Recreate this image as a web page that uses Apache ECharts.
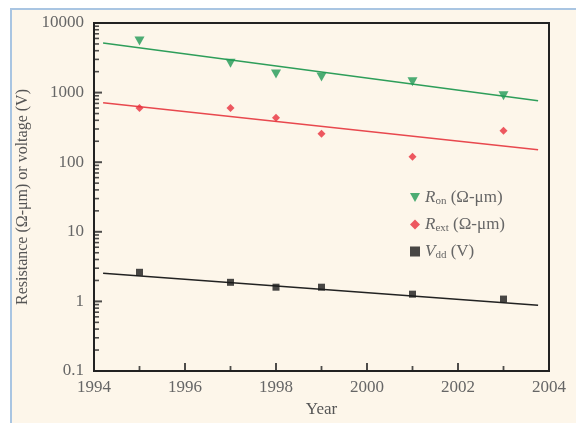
<!DOCTYPE html>
<html><head><meta charset="utf-8">
<script src="https://cdn.jsdelivr.net/npm/echarts@6/dist/echarts.min.js"></script>
<style>
html,body{margin:0;padding:0;background:#fff}
#bg{position:absolute;left:10px;top:8px;width:600px;height:500px;background:#fdf6ea;border:2px solid #a9c5e2;box-sizing:border-box}
#wrap{position:relative;width:576px;height:423px;overflow:hidden}
#c{position:absolute;left:0;top:0;width:576px;height:423px}
</style>
</head><body><div id="wrap"><div id="bg"></div><div id="c"></div></div>
<script>
const years = [1995, 1997, 1998, 1999, 2001, 2003];
const ron = [5500, 2650, 1850, 1680, 1430, 900];
const rext = [600, 600, 435, 257, 120, 284];
const vdd = [2.62, 1.88, 1.60, 1.60, 1.27, 1.08];
const fitYears = [1994.2, 2003.76];
const ronFit = [5170, 764];
const rextFit = [714, 151];
const vddFit = [2.54, 0.88];
const xTicks = [1994, 1996, 1998, 2000, 2002, 2004];
const yTicks = [0.1, 1, 10, 100, 1000, 10000];

const serif = '"Liberation Serif","DejaVu Serif",serif';
const pair = (xs, ys) => xs.map((x, i) => [x, ys[i]]);

// tick-mark positions (axis decoration), in axis units
const xMajorTicks = [1996, 1998, 2000, 2002].map(y => [y, 0.1]);
const xMinorTicks = [1995, 1997, 1999, 2001, 2003].map(y => [y, 0.1]);
const yMajorTicks = [1, 10, 100, 1000].map(v => [1994, v]);
const yMinorTicks = [];
for (let d = -1; d < 4; d++) for (let m = 2; m <= 9; m++) yMinorTicks.push([1994, m * Math.pow(10, d)]);

const tick = (name, data, size, offset) => ({
  name, type: 'scatter', data, symbol: 'rect', symbolSize: size, symbolOffset: offset,
  itemStyle: {color: '#222'}, silent: true, clip: false, z: 6
});

const chart = echarts.init(document.getElementById('c'));
const sub = {fontFamily: serif, fontSize: 11, color: '#666', padding: [8, 0, 0, 0]};
const base = {fontFamily: serif, fontSize: 17, color: '#666'};
const ital = {fontFamily: serif, fontSize: 17, color: '#666', fontStyle: 'italic'};
const triDown = 'path://M0,0 L10,0 L5,9 Z';
chart.setOption({
  animation: false,
  backgroundColor: 'transparent',
  grid: {left: 94, right: 27, top: 23, bottom: 51, show: true, borderColor: '#222', borderWidth: 2, backgroundColor: 'transparent'},
  xAxis: {
    type: 'value', min: 1994, max: 2004, interval: 2,
    axisLine: {show: true, lineStyle: {color: '#222', width: 2}},
    axisTick: {show: false},
    splitLine: {show: false},
    axisLabel: {fontFamily: serif, fontSize: 17, color: '#666', margin: 8, formatter: v => xTicks.includes(v) ? String(v) : ''},
    name: 'Year', nameLocation: 'middle', nameGap: 30,
    nameTextStyle: {fontFamily: serif, fontSize: 17, color: '#555'}
  },
  yAxis: {
    type: 'log', logBase: 10, min: 0.1, max: 10000,
    axisLine: {show: true, lineStyle: {color: '#222', width: 2}},
    axisTick: {show: false},
    splitLine: {show: false},
    axisLabel: {fontFamily: serif, fontSize: 17, color: '#666', margin: 10, formatter: v => { const t = yTicks.find(y => Math.abs(y - v) / y < 1e-6); return t === undefined ? '' : String(t); }},
    name: 'Resistance (Ω-μm) or voltage (V)', nameLocation: 'middle', nameGap: 58,
    nameTextStyle: {fontFamily: serif, fontSize: 16, color: '#555'}
  },
  legend: {
    left: 405, top: 184, orient: 'vertical', itemGap: 9, itemWidth: 10, itemHeight: 10,
    data: [{name: 'Ron', icon: triDown}, {name: 'Rext', icon: 'diamond'}, {name: 'Vdd', icon: 'rect'}],
    formatter: n => n === 'Ron' ? '{i|R}{s|on}{b| (Ω-μm)}' : n === 'Rext' ? '{i|R}{s|ext}{b| (Ω-μm)}' : '{i|V}{s|dd}{b| (V)}',
    textStyle: {rich: {i: ital, s: sub, b: base}}
  },
  series: [
    {name: 'RonFit', type: 'line', data: pair(fitYears, ronFit), symbol: 'none', lineStyle: {color: '#2e9e5a', width: 1.6}, z: 2},
    {name: 'RextFit', type: 'line', data: pair(fitYears, rextFit), symbol: 'none', lineStyle: {color: '#e8484e', width: 1.6}, z: 2},
    {name: 'VddFit', type: 'line', data: pair(fitYears, vddFit), symbol: 'none', lineStyle: {color: '#222', width: 1.6}, z: 2},
    {name: 'Ron', type: 'scatter', data: pair(years, ron), symbol: triDown, symbolSize: [10, 9], itemStyle: {color: '#1f9a55'}, z: 3},
    {name: 'Rext', type: 'scatter', data: pair(years, rext), symbol: 'diamond', symbolSize: 8, itemStyle: {color: '#e8303c'}, z: 3},
    {name: 'Vdd', type: 'scatter', data: pair(years, vdd), symbol: 'rect', symbolSize: 7, itemStyle: {color: '#1a1a1a'}, z: 3},
    tick('xMajor', xMajorTicks, [2, 8], [0, -4]),
    tick('xMinor', xMinorTicks, [1.8, 5], [0, -2.5]),
    tick('yMajor', yMajorTicks, [8, 2], [4, 0]),
    tick('yMinor', yMinorTicks, [5, 1.6], [2.5, 0])
  ]
});
</script></body></html>
